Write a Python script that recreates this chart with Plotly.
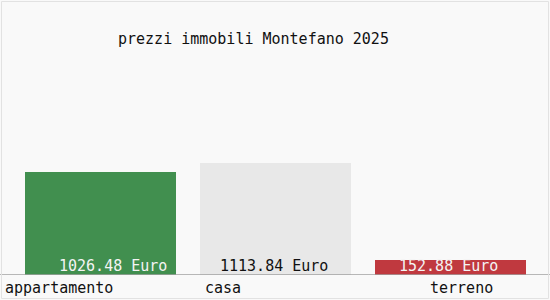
import plotly.graph_objects as go

categories = ["appartamento", "casa", "terreno"]
values = [1026.48, 1113.84, 152.88]
value_labels = ["1026.48 Euro", "1113.84 Euro", "152.88 Euro"]
title_text = "prezzi immobili Montefano 2025"

bar_colors = ["#418f4f", "#e8e8e8", "#c0393f"]
label_colors = ["#f4f4f4", "#111111", "#f4f4f4"]
label_xshift = [12, -2, -2]
cat_xshift = [-97.5, -72.5, -22.5]

FONT = "DejaVu Sans Mono"
W, Hh = 550, 300
L, R, T, B = 13, 12, 40, 25
PW, PH = W - L - R, Hh - T - B

def px_x(p):
    return (p - L) / PW

def px_y(p):
    return (Hh - B - p) / PH

fig = go.Figure()
fig.add_trace(go.Bar(
    x=categories, y=values,
    marker=dict(color=bar_colors, line=dict(width=0)),
    width=0.863,
    hoverinfo="skip",
))

ann = []
for i, c in enumerate(categories):
    ann.append(dict(x=c, y=0, xref="x", yref="y", text=value_labels[i],
                    showarrow=False, yanchor="bottom", xanchor="center",
                    xshift=label_xshift[i], yshift=-2,
                    font=dict(family=FONT, size=15, color=label_colors[i])))
    ann.append(dict(x=c, y=px_y(288), xref="x", yref="paper", text=c,
                    showarrow=False, yanchor="middle", xanchor="left",
                    xshift=cat_xshift[i],
                    font=dict(family=FONT, size=15, color="#111111")))
ann.append(dict(x=px_x(253.5), y=px_y(39), xref="paper", yref="paper",
                text=title_text, showarrow=False, xanchor="center", yanchor="middle",
                font=dict(family=FONT, size=15, color="#111111")))

shapes = [
    dict(type="line", xref="paper", yref="y", x0=px_x(0), x1=px_x(550), y0=0, y1=0,
         line=dict(color="#a0a0a0", width=1.5)),
    dict(type="rect", xref="paper", yref="paper", x0=px_x(1.5), x1=px_x(548.5),
         y0=px_y(298.5), y1=px_y(1.5), line=dict(color="#e2e2e2", width=1)),
]

fig.update_layout(
    width=W, height=Hh,
    margin=dict(l=L, r=R, t=T, b=B, pad=0),
    paper_bgcolor="#f9f9f9", plot_bgcolor="#f9f9f9",
    showlegend=False,
    annotations=ann, shapes=shapes,
    xaxis=dict(showticklabels=False, showgrid=False, zeroline=False, showline=False,
               ticks="", range=[-0.5, 2.5], fixedrange=True),
    yaxis=dict(showticklabels=False, showgrid=False, zeroline=False, showline=False,
               ticks="", range=[0, 2340], fixedrange=True),
    bargap=0,
)

fig.write_html("out.html", config={"displayModeBar": False})
